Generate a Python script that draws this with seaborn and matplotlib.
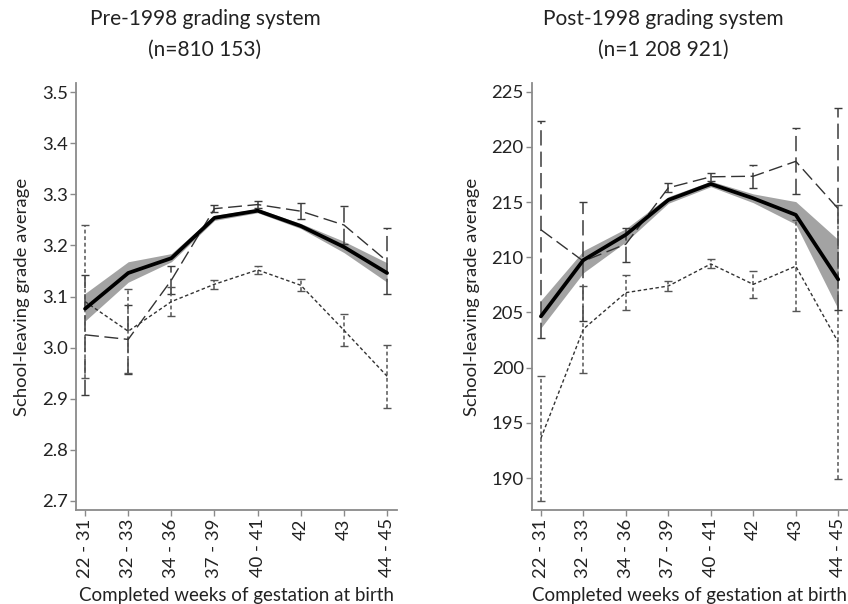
import numpy as np
import pandas as pd
import matplotlib
matplotlib.use("Agg")
import matplotlib.pyplot as plt
import seaborn as sns

categories = ["22 - 31", "32 - 33", "34 - 36", "37 - 39", "40 - 41", "42", "43", "44 - 45"]

# Pre-1998 grading system
pre_solid = [3.076, 3.146, 3.175, 3.254, 3.268, 3.238, 3.197, 3.146]
pre_solid_lo = [3.052, 3.128, 3.168, 3.249, 3.264, 3.233, 3.186, 3.128]
pre_solid_hi = [3.106, 3.168, 3.184, 3.259, 3.272, 3.243, 3.208, 3.166]
pre_long = [3.025, 3.016, 3.132, 3.272, 3.280, 3.267, 3.240, 3.169]
pre_long_lo = [2.907, 2.948, 3.104, 3.265, 3.274, 3.251, 3.202, 3.104]
pre_long_hi = [3.142, 3.083, 3.160, 3.280, 3.287, 3.283, 3.277, 3.234]
pre_short = [3.090, 3.032, 3.090, 3.124, 3.152, 3.122, 3.034, 2.944]
pre_short_lo = [2.940, 2.950, 3.062, 3.115, 3.145, 3.110, 3.004, 2.882]
pre_short_hi = [3.240, 3.114, 3.118, 3.133, 3.160, 3.135, 3.065, 3.005]

# Post-1998 grading system
post_solid = [204.65, 209.75, 212.05, 215.2, 216.65, 215.35, 213.85, 208.0]
post_solid_lo = [203.6, 208.6, 211.4, 214.9, 216.4, 214.95, 213.0, 205.3]
post_solid_hi = [206.1, 210.6, 212.6, 215.5, 216.9, 215.75, 215.05, 211.6]
post_long = [212.5, 209.65, 211.2, 216.3, 217.3, 217.35, 218.7, 214.4]
post_long_lo = [202.65, 204.2, 209.6, 215.9, 216.95, 216.3, 215.7, 205.2]
post_long_hi = [222.35, 215.05, 212.7, 216.75, 217.65, 218.4, 221.7, 223.55]
post_short = [193.6, 203.5, 206.8, 207.4, 209.4, 207.55, 209.2, 202.3]
post_short_lo = [187.9, 199.5, 205.2, 206.95, 209.0, 206.3, 205.15, 189.9]
post_short_hi = [199.2, 207.4, 208.4, 207.85, 209.85, 208.8, 213.35, 214.7]

titles = ["Pre-1998 grading system\n(n=810 153)", "Post-1998 grading system\n(n=1 208 921)"]
ylabel = "School-leaving grade average"
xlabel = "Completed weeks of gestation at birth"
pre_yticks = [2.7, 2.8, 2.9, 3.0, 3.1, 3.2, 3.3, 3.4, 3.5]
post_yticks = [190, 195, 200, 205, 210, 215, 220, 225]

sns.set_theme(style="white")
plt.rcParams['font.family'] = ['Lato', 'DejaVu Sans']

fig = plt.figure(figsize=(8.48, 6.04), dpi=100)
ax1 = fig.add_axes([76/848, 94/604, 321/848, 427/604])
ax2 = fig.add_axes([532/848, 94/604, 316/848, 427/604])

FS = 13.3
GRAY = "#8a8a8a"
TXT = "#222222"
LONG = (0, (10, 4))
SHORT = (0, (2.5, 1.8))


def panel(ax, solid, slo, shi, lng, llo, lhi, sht, shlo, shhi, ylim, yticks, fmt, ylab_x):
    x = np.arange(len(categories))
    df = pd.DataFrame({"x": x, "solid": solid, "long": lng, "short": sht})
    ax.fill_between(x, slo, shi, color="#a3a3a3", lw=0, zorder=1)
    for y, lo, hi, ls, col in [(lng, llo, lhi, LONG, "#3c3c3c"), (sht, shlo, shhi, SHORT, "#555555")]:
        y = np.array(y); lo = np.array(lo); hi = np.array(hi)
        eb = ax.errorbar(x, y, yerr=[y - lo, hi - y], fmt="none", ecolor=col,
                         elinewidth=1.1, capsize=3.0, capthick=1.0, zorder=2)
        eb[2][0].set_linestyle(ls)
    sns.lineplot(data=df, x="x", y="long", ax=ax, color="#333333", lw=1.0,
                 linestyle=LONG, zorder=3)
    sns.lineplot(data=df, x="x", y="short", ax=ax, color="#333333", lw=1.0,
                 linestyle=SHORT, zorder=3)
    sns.lineplot(data=df, x="x", y="solid", ax=ax, color="black", lw=2.7, zorder=4)
    ax.set_xlim(-0.21, len(categories) - 1 + 0.23)
    ax.set_ylim(*ylim)
    ax.set_yticks(yticks)
    ax.set_yticklabels([fmt(v) for v in yticks], fontsize=FS, color=TXT)
    ax.set_xticks(x)
    ax.set_xticklabels(categories, rotation=90, fontsize=FS, color=TXT)
    ax.set_xlabel(xlabel, fontsize=13.5, color=TXT, labelpad=7)
    ax.set_ylabel(ylabel, fontsize=13.3, color=TXT, ha="center", va="center")
    bbox = ax.get_position()
    w_px = bbox.width * 848
    ax.yaxis.set_label_coords((ylab_x - bbox.x0 * 848) / w_px, 0.5)
    for s in ["top", "right"]:
        ax.spines[s].set_visible(False)
    for s in ["left", "bottom"]:
        ax.spines[s].set_color(GRAY)
        ax.spines[s].set_linewidth(1.3)
    ax.tick_params(axis="both", which="both", direction="out", length=4, width=1,
                   color=GRAY, pad=2, left=True, bottom=True)
    ax.grid(False)


panel(ax1, pre_solid, pre_solid_lo, pre_solid_hi, pre_long, pre_long_lo, pre_long_hi,
      pre_short, pre_short_lo, pre_short_hi, (2.682, 3.518), pre_yticks,
      lambda v: f"{v:.1f}", 21.5)
panel(ax2, post_solid, post_solid_lo, post_solid_hi, post_long, post_long_lo, post_long_hi,
      post_short, post_short_lo, post_short_hi, (187.1, 225.8), post_yticks,
      lambda v: f"{v:d}", 472)

fig.text(205/848, 1 - 19/604, titles[0].split("\n")[0], ha="center", va="center",
         fontsize=15, color=TXT)
fig.text(205/848, 1 - 50/604, titles[0].split("\n")[1], ha="center", va="center",
         fontsize=15, color=TXT)
fig.text(663/848, 1 - 19/604, titles[1].split("\n")[0], ha="center", va="center",
         fontsize=15, color=TXT)
fig.text(663/848, 1 - 50/604, titles[1].split("\n")[1], ha="center", va="center",
         fontsize=15, color=TXT)

fig.savefig("out.png", dpi=100)
